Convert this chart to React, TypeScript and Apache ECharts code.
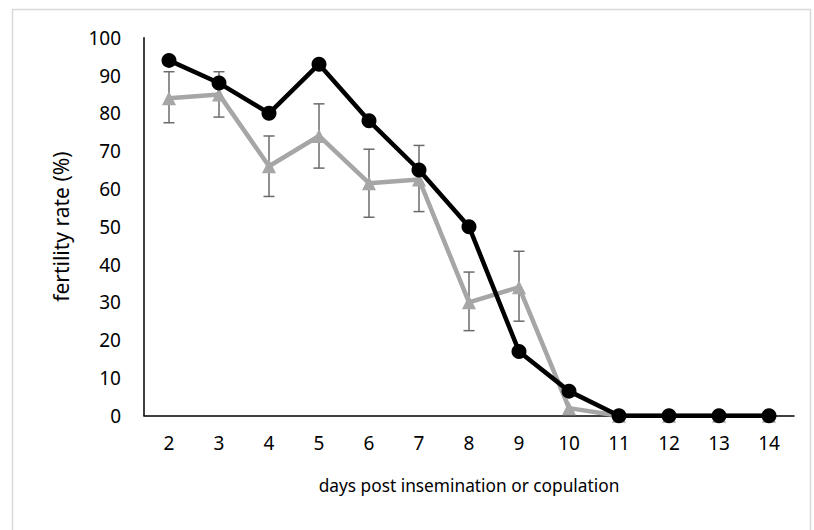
import React, { useEffect, useRef } from "react";
import * as echarts from "echarts";

const days = ["2", "3", "4", "5", "6", "7", "8", "9", "10", "11", "12", "13", "14"];
const seriesBlack = [94, 88, 80, 93, 78, 65, 50, 17, 6.5, 0, 0, 0, 0];
const seriesGray = [84, 85, 66, 74, 61.5, 62.5, 30, 34, 2, 0, 0, 0, 0];
const errLow = [77.5, 79, 58, 65.5, 52.5, 54, 22.5, 25];
const errHigh = [91, 91, 74, 82.5, 70.5, 71.5, 38, 43.5];
const yTicks = [0, 10, 20, 30, 40, 50, 60, 70, 80, 90, 100];

const FONT = "'Noto Sans', 'Open Sans', sans-serif";

export default function App() {
  const ref = useRef<HTMLDivElement>(null);
  useEffect(() => {
    document.body.style.margin = "0";
    const chart = echarts.init(ref.current!, null, { renderer: "svg" });
    const errData = errLow.map((lo, i) => [i, lo, errHigh[i]]);
    chart.setOption({
      animation: false,
      backgroundColor: "#ffffff",
      textStyle: { fontFamily: FONT },
      graphic: [
        {
          type: "rect",
          left: 10,
          top: 7,
          shape: { x: 0, y: 0, width: 798, height: 540 },
          style: { fill: "none", stroke: "#d9d9d9", lineWidth: 1.5 },
          silent: true,
        },
      ],
      grid: { left: 144, right: 20, top: 37.7, bottom: 114.3, containLabel: false },
      xAxis: {
        type: "category",
        data: days,
        boundaryGap: true,
        axisLine: { lineStyle: { color: "#000", width: 1.5 } },
        axisTick: { show: false },
        axisLabel: { color: "#000", fontSize: 19, fontFamily: FONT, margin: 18 },
        name: "days post insemination or copulation",
        nameLocation: "middle",
        nameGap: 61,
        nameTextStyle: { color: "#000", fontSize: 17.3, fontFamily: FONT },
      },
      yAxis: {
        type: "value",
        min: yTicks[0],
        max: yTicks[yTicks.length - 1],
        interval: 10,
        axisLine: { show: true, lineStyle: { color: "#000", width: 1.5 } },
        axisTick: { show: false },
        splitLine: { show: false },
        axisLabel: { color: "#000", fontSize: 19, fontFamily: FONT, margin: 23 },
        name: "fertility rate (%)",
        nameLocation: "middle",
        nameGap: 73,
        nameRotate: 90,
        nameTextStyle: { color: "#000", fontSize: 21, fontFamily: FONT },
      },
      series: [
        {
          type: "custom",
          name: "error",
          data: errData,
          encode: { x: 0, y: [1, 2] },
          z: 1,
          renderItem: (params: any, api: any) => {
            const x = api.value(0);
            const pLo = api.coord([x, api.value(1)]);
            const pHi = api.coord([x, api.value(2)]);
            const w = 5.5;
            const style = { stroke: "#6b6b6b", lineWidth: 1.5 };
            return {
              type: "group",
              children: [
                { type: "line", shape: { x1: pLo[0], y1: pLo[1], x2: pHi[0], y2: pHi[1] }, style },
                { type: "line", shape: { x1: pHi[0] - w, y1: pHi[1], x2: pHi[0] + w, y2: pHi[1] }, style },
                { type: "line", shape: { x1: pLo[0] - w, y1: pLo[1], x2: pLo[0] + w, y2: pLo[1] }, style },
              ],
            };
          },
        },
        {
          type: "line",
          name: "Series 2",
          data: seriesGray,
          z: 2,
          symbol: "triangle",
          symbolSize: 14,
          lineStyle: { color: "#a6a6a6", width: 4.5 },
          itemStyle: { color: "#a6a6a6" },
        },
        {
          type: "line",
          name: "Series 1",
          data: seriesBlack,
          z: 3,
          symbol: "circle",
          symbolSize: 15,
          lineStyle: { color: "#000000", width: 4.5 },
          itemStyle: { color: "#000000" },
        },
      ],
    });
    return () => chart.dispose();
  }, []);
  return <div ref={ref} style={{ width: 814, height: 530, position: "absolute", left: 0, top: 0 }} />;
}
